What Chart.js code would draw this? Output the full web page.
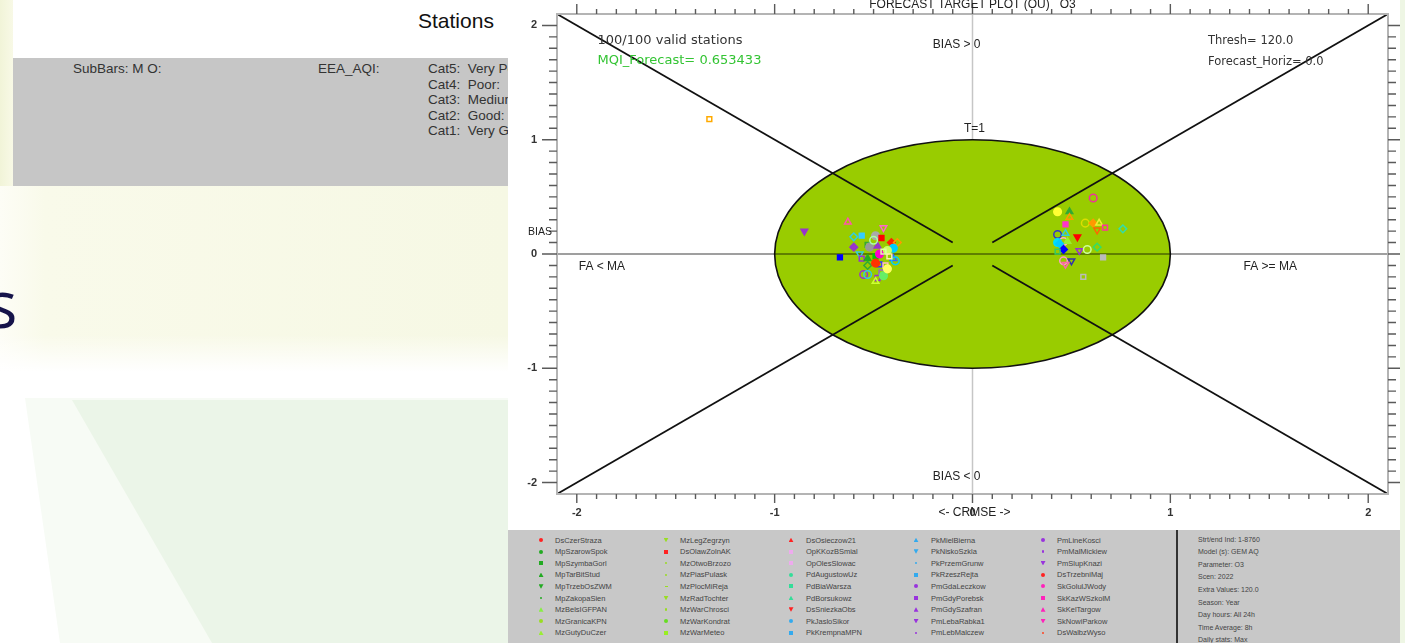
<!DOCTYPE html>
<html>
<head>
<meta charset="utf-8">
<title>Forecast Target Plot O3</title>
<script src="https://cdn.jsdelivr.net/npm/chart.js@4.4.1/dist/chart.umd.min.js"></script>
<style>
  html, body { margin: 0; padding: 0; width: 1405px; height: 643px; overflow: hidden; background: #fff; }
  #page { position: relative; width: 1405px; height: 643px; overflow: hidden; font-family: "Liberation Sans", Arial, sans-serif; }
  .abs { position: absolute; }
  #leftStrip { left: 0; top: 0; width: 13px; height: 190px; background: linear-gradient(to right, #f1f4d8, #f8f9e6); }
  #yellowZone { left: 0; top: 186px; width: 508px; height: 186px;
    background: linear-gradient(to bottom, rgba(255,255,255,0) 0, rgba(255,255,255,0) 80%, #fff 100%),
                linear-gradient(to right, #fdfdf6 0, #f9faea 45px, #f6f8e4 100%); }
  #greenHaze { left: 0; top: 398px; width: 508px; height: 245px; background: #f7fbf5;
    clip-path: polygon(25px 0, 508px 0, 508px 245px, 60px 245px); }
  #greenZone { left: 0; top: 400px; width: 508px; height: 243px; background: #ebf5e8;
    clip-path: polygon(72px 0, 508px 0, 508px 243px, 212px 243px); }
  #bigS { left: -14px; top: 262px; font-family: "Open Sans", "Noto Sans", sans-serif; font-size: 66px; line-height: 80px; color: #16144a; }
  #stationsTitle { left: 418px; top: 8px; font-size: 21px; line-height: 26px; color: #111; }
  #subPanel { left: 13px; top: 58px; width: 495px; height: 128px; background: #c6c6c6; overflow: hidden; }
  .pTxt { position: absolute; font-size: 13.5px; line-height: 15px; color: #333; white-space: pre; }
  #chartBox { left: 508px; top: 0; width: 892px; height: 530px; background: #fff; }
  #rightStrip { left: 1400px; top: 0; width: 5px; height: 643px; background: #eef6e4; }
  #legendPanel { left: 508px; top: 530px; width: 892px; height: 113px; background: #c8c8c8; overflow: hidden; }
  .lgName { position: absolute; font-size: 7.5px; line-height: 9px; color: #444; white-space: pre; }
  .lgMark { position: absolute; width: 4px; height: 4px; }
  #infoSep { left: 1176px; top: 530px; width: 2px; height: 113px; background: #333; }
  .info { position: absolute; font-size: 7px; line-height: 9px; color: #444; white-space: pre; }
</style>
</head>
<body>
<div id="page">
  <div id="leftStrip" class="abs"></div>
  <div id="yellowZone" class="abs"></div>
  <div id="greenHaze" class="abs"></div>
  <div id="greenZone" class="abs"></div>
  <div id="bigS" class="abs">s</div>
  <div id="stationsTitle" class="abs">Stations</div>
  <div id="subPanel" class="abs"></div>
  <div id="chartBox" class="abs"><canvas id="target" width="892" height="530"></canvas></div>
  <div id="rightStrip" class="abs"></div>
  <div id="legendPanel" class="abs"></div>
  <div id="infoSep" class="abs"></div>
</div>
<script>
// ---- Axis ticks ----
const axisTicks = [-2, -1, 0, 1, 2];

// ---- Station scores: centred RMSE (x) and bias (y), normalised ----
const crmseValues = [
  -1.33, -0.85, -0.63, -0.56, -0.60, -0.45, -0.49, -0.46, -0.41, -0.38,
  -0.60, -0.53, -0.52, -0.48, -0.40, -0.67, -0.57, -0.56, -0.53, -0.49,
  -0.47, -0.43, -0.47, -0.40, -0.39, -0.53, -0.49, -0.44, -0.55, -0.53,
  -0.48, -0.46, -0.45, -0.49, -0.43, -0.45, -0.42, -0.50,
   0.61,  0.43,  0.49,  0.49,  0.47,  0.57,  0.61,  0.64,  0.63,  0.67,
   0.76,  0.43,  0.47,  0.53,  0.46,  0.48,  0.43,  0.44,  0.46,  0.43,
   0.54,  0.58,  0.63,  0.66,  0.46,  0.50,  0.47,  0.56
];
const biasValues = [
   1.18,  0.20,  0.28,  0.16,  0.15,  0.23,  0.16,  0.14,  0.10,  0.10,
   0.06,  0.08,  0.06,  0.07,  0.05, -0.03,  0.00, -0.04, -0.04, -0.02,
   0.00,  0.03, -0.09, -0.04, -0.06, -0.10, -0.08, -0.10, -0.18, -0.18,
  -0.21, -0.16, -0.19, -0.24, -0.13,  0.02, -0.02,  0.12,
   0.49,  0.37,  0.37,  0.32,  0.26,  0.27,  0.27,  0.27,  0.21,  0.23,
   0.22,  0.17,  0.18,  0.15,  0.11,  0.11,  0.10,  0.09,  0.04,  0.02,
   0.03,  0.04,  0.06, -0.03, -0.06, -0.06, -0.09, -0.20
];
const markerColors = [
  '#ffaa00', '#9933cc', '#ff55aa', '#33ccff', '#33ccdd', '#ff66cc', '#aaaaaa', '#ff0000', '#ff2200', '#ff9900',
  '#9933cc', '#33aa33', '#999999', '#9933cc', '#00ccff', '#0000ff', '#33ccdd', '#9933cc', '#22aa22', '#00cc00',
  '#ff00cc', '#ccff66', '#3333ff', '#3366ff', '#00ccff', '#33aa33', '#ff3300', '#ffbbcc', '#9933cc', '#33ccdd',
  '#9933cc', '#9966cc', '#66ee66', '#ccff33', '#ffff66', '#ddffaa', '#ffeeaa', '#aaffaa',
  '#ee3399', '#ffff33', '#33aa33', '#ff9900', '#ff33cc', '#dddd00', '#ff9900', '#eeee33', '#ff6600', '#ff3399',
  '#33ddaa', '#3333cc', '#33ccdd', '#ff0000', '#ffaacc', '#99ee33', '#00ddff', '#00ccff', '#0000ff', '#33cc66',
  '#9933cc', '#ccff99', '#33dd66', '#bbbbbb', '#ff99cc', '#3333aa', '#ff66aa', '#bbbbbb'
];
const markerShapes = [
  'rect', 'triangleDown', 'triangle', 'rect', 'rectRot', 'triangleDown', 'circle', 'rect', 'rectRot', 'rectRot',
  'rectRot', 'rect', 'circle', 'triangle', 'circle', 'rect', 'triangleDown', 'rect', 'triangle', 'rect',
  'circle', 'circle', 'rect', 'triangle', 'circle', 'rectRot', 'circle', 'rect', 'circle', 'circle',
  'rect', 'rect', 'circle', 'triangle', 'circle', 'rect', 'rect', 'circle',
  'circle', 'circle', 'triangle', 'triangle', 'rect', 'circle', 'rectRot', 'triangle', 'triangleDown', 'rect',
  'rectRot', 'circle', 'triangle', 'triangleDown', 'circle', 'triangle', 'circle', 'rectRot', 'rectRot', 'rect',
  'triangleDown', 'circle', 'rectRot', 'rect', 'circle', 'triangleDown', 'triangleDown', 'rect'
];
const markerFilled = [
  0, 1, 0, 1, 0, 0, 1, 1, 1, 0,
  1, 0, 1, 1, 1, 1, 0, 0, 1, 1,
  1, 1, 0, 0, 0, 0, 1, 0, 0, 0,
  0, 0, 1, 0, 1, 0, 0, 0,
  0, 1, 1, 0, 1, 0, 1, 0, 0, 0,
  0, 0, 0, 1, 0, 1, 1, 1, 1, 0,
  0, 0, 0, 1, 0, 0, 0, 0
];

// ---- Station legend ----
const legendNames = [
  'DsCzerStraza', 'MpSzarowSpok', 'MpSzymbaGorl', 'MpTarBitStud', 'MpTrzebOsZWM', 'MpZakopaSien', 'MzBelsIGFPAN', 'MzGranicaKPN', 'MzGutyDuCzer',
  'MzLegZegrzyn', 'DsOlawZolnAK', 'MzOtwoBrzozo', 'MzPiasPulask', 'MzPlocMiReja', 'MzRadTochter', 'MzWarChrosci', 'MzWarKondrat', 'MzWarMeteo',
  'DsOsieczow21', 'OpKKozBSmial', 'OpOlesSlowac', 'PdAugustowUz', 'PdBiaWarsza', 'PdBorsukowz', 'DsSniezkaObs', 'PkJasloSikor', 'PkKrempnaMPN',
  'PkMielBierna', 'PkNiskoSzkla', 'PkPrzemGrunw', 'PkRzeszRejta', 'PmGdaLeczkow', 'PmGdyPorebsk', 'PmGdySzafran', 'PmLebaRabka1', 'PmLebMalczew',
  'PmLineKosci', 'PmMalMickiew', 'PmSlupKnazi', 'DsTrzebniMaj', 'SkGolulJWody', 'SkKazWSzkolM', 'SkKelTargow', 'SkNowiParkow', 'DsWalbzWyso'
];
const legendColors = [
  '#ff2222', '#22aa22', '#22aa22', '#22aa22', '#22aa22', '#22aa22', '#88ee44', '#99dd22', '#99ee33',
  '#99dd22', '#ff2222', '#99dd22', '#99dd22', '#99dd22', '#99dd22', '#99dd22', '#66dd22', '#99ee22',
  '#ff2222', '#eeaaee', '#eeaaee', '#33dd99', '#33dd99', '#33dd99', '#ff2222', '#33aaee', '#33aaee',
  '#33aaee', '#33aaee', '#33aaee', '#33aaee', '#9933dd', '#9933dd', '#9933dd', '#9933dd', '#9933dd',
  '#9933dd', '#9933dd', '#9933dd', '#ff2222', '#ff22bb', '#ff22bb', '#ff22bb', '#ff22bb', '#ff4422'
];
const legendShapes = [
  'circle', 'circle', 'rect', 'triangle', 'triangleDown', 'dot', 'triangle', 'circle', 'triangle',
  'triangleDown', 'rect', 'dot', 'dot', 'dash', 'triangleDown', 'dot', 'circle', 'rect',
  'triangle', 'rect', 'rect', 'circle', 'rect', 'triangle', 'triangleDown', 'circle', 'rect',
  'triangle', 'triangleDown', 'dot', 'rect', 'circle', 'rect', 'triangle', 'triangleDown', 'dot',
  'circle', 'dot', 'triangleDown', 'circle', 'circle', 'rect', 'triangle', 'triangleDown', 'dot'
];
const infoLines = [
  'Strt/end Ind: 1-8760', 'Model (s): GEM AQ', 'Parameter: O3', 'Scen: 2022', 'Extra Values: 120.0',
  'Season: Year', 'Day hours: All 24h', 'Time Average: 8h', 'Daily stats: Max'
];

// ---- Side panel text ----
const panelLines = [
  { x: 60,  row: 0, text: 'SubBars: M O:' },
  { x: 305, row: 0, text: 'EEA_AQI:' },
  { x: 415, row: 0, text: 'Cat5:  Very Poor:' },
  { x: 415, row: 1, text: 'Cat4:  Poor:' },
  { x: 415, row: 2, text: 'Cat3:  Medium:' },
  { x: 415, row: 3, text: 'Cat2:  Good:' },
  { x: 415, row: 4, text: 'Cat1:  Very Good:' }
];
const panel = document.getElementById('subPanel');
panelLines.forEach(p => {
  const d = document.createElement('div');
  d.className = 'pTxt';
  d.style.left = p.x + 'px';
  d.style.top = (3 + p.row * 15.5) + 'px';
  d.textContent = p.text;
  panel.appendChild(d);
});

// ---- Build station legend ----
const lp = document.getElementById('legendPanel');
const colMark = [33, 158, 283, 408, 535];
const colName = [47, 172, 298, 423, 549];
legendNames.forEach((name, i) => {
  const col = Math.floor(i / 9), row = i % 9;
  const cy = 10 + row * 11.6;
  const m = document.createElement('div');
  m.className = 'lgMark';
  const shp = legendShapes[i];
  let w = 4, h = 4;
  if (shp === 'dot') { w = 2.5; h = 2.5; }
  if (shp === 'dash') { w = 3; h = 1.2; }
  if (shp === 'triangle' || shp === 'triangleDown') { w = 5; h = 4.5; }
  m.style.width = w + 'px'; m.style.height = h + 'px';
  m.style.left = (colMark[col] - w / 2) + 'px';
  m.style.top = (cy - h / 2) + 'px';
  m.style.background = legendColors[i];
  if (shp === 'circle' || shp === 'dot') m.style.borderRadius = '50%';
  if (shp === 'triangle') m.style.clipPath = 'polygon(50% 0, 100% 100%, 0 100%)';
  if (shp === 'triangleDown') m.style.clipPath = 'polygon(0 0, 100% 0, 50% 100%)';
  lp.appendChild(m);
  const t = document.createElement('div');
  t.className = 'lgName';
  t.style.left = colName[col] + 'px';
  t.style.top = (cy - 4.5) + 'px';
  t.textContent = name;
  lp.appendChild(t);
});
infoLines.forEach((txt, i) => {
  const t = document.createElement('div');
  t.className = 'info';
  t.style.left = '690px';
  t.style.top = (4.5 + i * 12.6) + 'px';
  t.textContent = txt;
  lp.appendChild(t);
});

// ---- Target plot decorations ----
const targetPlugin = {
  id: 'targetDecor',
  beforeDatasetsDraw(chart) {
    const { ctx, chartArea: a, scales: { x, y } } = chart;
    const x0 = x.getPixelForValue(0), y0 = y.getPixelForValue(0);
    ctx.save();
    ctx.beginPath(); ctx.rect(a.left, a.top, a.right - a.left, a.bottom - a.top); ctx.clip();
    // vertical reference at zero CRMSE
    ctx.strokeStyle = '#c6c6c6'; ctx.lineWidth = 1.5;
    ctx.beginPath(); ctx.moveTo(x0, a.top); ctx.lineTo(x0, a.bottom); ctx.stroke();
    // target circle T=1
    const rx = x.getPixelForValue(1) - x0, ry = y0 - y.getPixelForValue(1);
    ctx.beginPath(); ctx.ellipse(x0, y0, rx, ry, 0, 0, Math.PI * 2);
    ctx.fillStyle = '#99cc00'; ctx.fill();
    ctx.strokeStyle = '#111'; ctx.lineWidth = 1.6; ctx.stroke();
    // zero bias line
    ctx.strokeStyle = 'rgba(0,0,0,0.5)'; ctx.lineWidth = 1.6;
    ctx.beginPath(); ctx.moveTo(a.left, y0); ctx.lineTo(a.right, y0); ctx.stroke();
    // diagonals from the corners
    const lim = x.max, inner = 0.1;
    ctx.strokeStyle = '#111'; ctx.lineWidth = 1.8;
    [[-1, 1], [-1, -1], [1, 1], [1, -1]].forEach(([sx, sy]) => {
      ctx.beginPath();
      ctx.moveTo(x.getPixelForValue(sx * lim), y.getPixelForValue(sy * lim));
      ctx.lineTo(x.getPixelForValue(sx * inner), y.getPixelForValue(sy * inner));
      ctx.stroke();
    });
    ctx.restore();
  },
  afterDraw(chart) {
    const { ctx, chartArea: a, scales: { x, y } } = chart;
    ctx.save();
    // frame
    ctx.strokeStyle = '#b4b4b4'; ctx.lineWidth = 2;
    ctx.strokeRect(a.left, a.top, a.right - a.left, a.bottom - a.top);
    // ticks every 0.1, longer at whole units
    ctx.strokeStyle = '#5a5a5a'; ctx.lineWidth = 1.4;
    for (let k = -20; k <= 20; k++) {
      const v = k / 10, major = k % 10 === 0;
      const px = x.getPixelForValue(v), py = y.getPixelForValue(v);
      const lenH = major ? 10 : 5, lenV = major ? 15 : 8;
      ctx.beginPath();
      ctx.moveTo(px, a.top); ctx.lineTo(px, a.top - lenH);
      ctx.moveTo(px, a.bottom); ctx.lineTo(px, a.bottom + (major ? 9 : 5));
      ctx.moveTo(a.left, py); ctx.lineTo(a.left - lenV, py);
      ctx.moveTo(a.right, py); ctx.lineTo(a.right + (major ? 12 : 8), py);
      ctx.stroke();
    }
    // tick labels
    ctx.fillStyle = '#333';
    ctx.font = 'bold 11px "Liberation Sans", Arial, sans-serif';
    ctx.textBaseline = 'middle';
    axisTicks.forEach(v => {
      ctx.textAlign = 'center';
      ctx.fillText(String(v), x.getPixelForValue(v), a.bottom + 19);
      ctx.textAlign = 'right';
      ctx.fillText(String(v), a.left - 20, y.getPixelForValue(v));
    });
    // title
    ctx.font = '12px "Liberation Sans", Arial, sans-serif';
    ctx.fillStyle = '#222';
    ctx.textAlign = 'center'; ctx.textBaseline = 'alphabetic';
    ctx.fillText('FORECAST TARGET PLOT (OU)   O3', x.getPixelForValue(0), 8);
    // axis titles
    ctx.textBaseline = 'middle';
    ctx.fillText('<- CRMSE ->', x.getPixelForValue(0.01), a.bottom + 19);
    ctx.font = '10.5px "Liberation Sans", Arial, sans-serif';
    ctx.textAlign = 'right';
    ctx.fillText('BIAS', a.left - 5, y.getPixelForValue(0.19));
    // quadrant labels
    ctx.font = '12px "Liberation Sans", Arial, sans-serif';
    ctx.textAlign = 'center';
    ctx.fillText('BIAS > 0', x.getPixelForValue(-0.08), y.getPixelForValue(1.83));
    ctx.fillText('BIAS < 0', x.getPixelForValue(-0.08), y.getPixelForValue(-1.95));
    ctx.fillText('T=1', x.getPixelForValue(0.01), y.getPixelForValue(1.10));
    ctx.textAlign = 'left';
    ctx.fillText('FA < MA', x.getPixelForValue(-1.99), y.getPixelForValue(-0.11));
    ctx.fillText('FA >= MA', x.getPixelForValue(1.37), y.getPixelForValue(-0.11));
    // summary statistics
    ctx.font = '13px "DejaVu Sans", sans-serif';
    ctx.fillStyle = '#333';
    ctx.fillText('100/100 valid stations', x.getPixelForValue(-1.895), y.getPixelForValue(1.866));
    ctx.fillStyle = '#33c433';
    ctx.fillText('MQI_Forecast= 0.653433', x.getPixelForValue(-1.895), y.getPixelForValue(1.69));
    ctx.font = '11.5px "DejaVu Sans", sans-serif';
    ctx.fillStyle = '#333';
    ctx.fillText('Thresh= 120.0', x.getPixelForValue(1.19), y.getPixelForValue(1.866));
    ctx.fillText('Forecast_Horiz= 0.0', x.getPixelForValue(1.19), y.getPixelForValue(1.68));
    ctx.restore();
  }
};

const stationPoints = crmseValues.map((v, i) => ({ x: v, y: biasValues[i] }));
new Chart(document.getElementById('target'), {
  type: 'scatter',
  data: {
    datasets: [{
      data: stationPoints,
      showLine: false,
      pointStyle: markerShapes.map(s => s === 'triangleDown' ? 'triangle' : s),
      pointRotation: markerShapes.map(s => s === 'triangleDown' ? 180 : 0),
      pointRadius: markerShapes.map(s => s === 'rect' ? 3.4 : 3.8),
      pointBorderColor: markerColors,
      pointBackgroundColor: markerColors.map((c, i) => markerFilled[i] ? c : 'rgba(0,0,0,0)'),
      pointBorderWidth: 1.5
    }]
  },
  options: {
    responsive: false,
    animation: false,
    devicePixelRatio: 1,
    layout: { padding: { left: 49, right: 12, top: 14, bottom: 36 } },
    scales: {
      x: { type: 'linear', min: -2.1, max: 2.1, display: false },
      y: { type: 'linear', min: -2.1, max: 2.1, display: false }
    },
    plugins: { legend: { display: false }, tooltip: { enabled: false } }
  },
  plugins: [targetPlugin]
});
</script>
</body>
</html>
